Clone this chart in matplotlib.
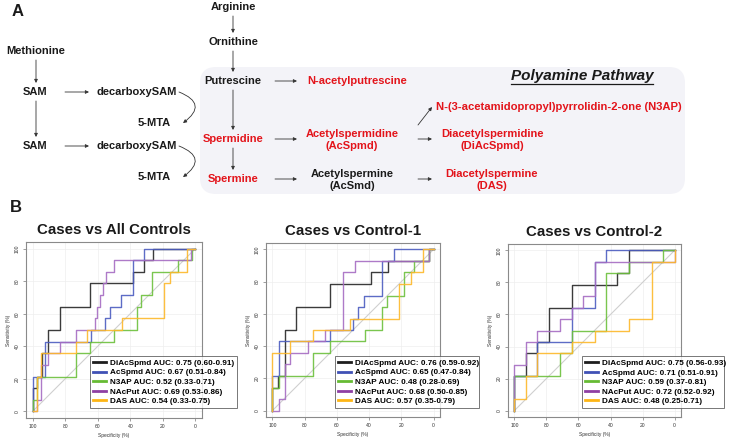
import matplotlib
matplotlib.use("Agg")
import matplotlib.pyplot as plt
from matplotlib.patches import FancyBboxPatch

plt.rcParams['font.family'] = ['Liberation Sans', 'DejaVu Sans']

RED = '#e3141b'
DARK = '#1a1a1a'

# =========================================================
# DATA  (specificity %, sensitivity %) read from the ROC steps
# =========================================================

markers = ["DiAcSpmd", "AcSpmd", "N3AP", "NAcPut", "DAS"]
colors = ['#1e1e1e', '#4051b5', '#66bb33', '#8e3fa3', '#fdb515']
line_colors = ['#262626', '#4b5cc0', '#6cc03c', '#a56cc2', '#fdb82a']

titles = ["Cases vs All Controls", "Cases vs Control-1", "Cases vs Control-2"]

auc_all = ["0.75 (0.60-0.91)", "0.67 (0.51-0.84)", "0.52 (0.33-0.71)",
           "0.69 (0.53-0.86)", "0.54 (0.33-0.75)"]
auc_c1 = ["0.76 (0.59-0.92)", "0.65 (0.47-0.84)", "0.48 (0.28-0.69)",
          "0.68 (0.50-0.85)", "0.57 (0.35-0.79)"]
auc_c2 = ["0.75 (0.56-0.93)", "0.71 (0.51-0.91)", "0.59 (0.37-0.81)",
          "0.72 (0.52-0.92)", "0.48 (0.25-0.71)"]

all_diacspmd = [(100, 0), (100, 14.3), (97.3, 14.3), (97.3, 21.4), (93.9, 21.4), (93.9, 35.7),
                (90.2, 35.7), (90.2, 50), (83.4, 50), (83.4, 64.3), (64.5, 64.3), (64.5, 78.6),
                (38.3, 78.6), (38.3, 85.7), (31.4, 85.7), (31.4, 92.9), (26.2, 92.9), (26.2, 100), (0, 100)]
all_acspmd = [(100, 0), (100, 21.4), (92.6, 21.4), (92.6, 42.9), (64.1, 42.9), (64.1, 50),
              (55.3, 50), (55.3, 57.1), (52.3, 57.1), (52.3, 64.3), (45.7, 64.3), (45.7, 71.4),
              (38.3, 71.4), (38.3, 92.9), (31.4, 92.9), (31.4, 100), (0, 100)]
all_n3ap = [(100, 0), (100, 7.1), (97.3, 7.1), (97.3, 21.4), (73.6, 21.4), (73.6, 35.7),
            (64.5, 35.7), (64.5, 42.9), (50.2, 42.9), (50.2, 50), (35.8, 50), (35.8, 64.3),
            (33.4, 64.3), (33.4, 71.4), (26.6, 71.4), (26.6, 85.7), (11, 85.7), (11, 92.9),
            (2, 92.9), (2, 100), (0, 100)]
all_nacput = [(100, 0), (97.3, 0), (97.3, 7.1), (94.6, 7.1), (94.6, 28.6), (90.6, 28.6),
              (90.6, 35.7), (83.2, 35.7), (83.2, 42.9), (73.6, 42.9), (73.6, 50), (61.9, 50),
              (61.9, 57.1), (60.5, 57.1), (60.5, 64.3), (58.5, 64.3), (58.5, 71.4), (56.5, 71.4),
              (56.5, 78.6), (54.7, 78.6), (54.7, 85.7), (50.2, 85.7), (50.2, 92.9), (2.5, 92.9),
              (2.5, 100), (0, 100)]
all_das = [(100, 0), (97.3, 0), (97.3, 21.4), (94.6, 21.4), (94.6, 35.7), (73.6, 35.7),
           (73.6, 42.9), (66.6, 42.9), (66.6, 50), (45, 50), (45, 57.1), (19.5, 57.1),
           (19.5, 78.6), (15.8, 78.6), (15.8, 85.7), (5.3, 85.7), (5.3, 100), (0, 100)]

c1_diacspmd = [(100, 0), (100, 14.3), (96.5, 14.3), (96.5, 21.4), (92.4, 21.4), (92.4, 50),
               (85.1, 50), (85.1, 64.3), (64, 64.3), (64, 78.6), (38.7, 78.6), (38.7, 85.7),
               (28.4, 85.7), (28.4, 92.9), (3, 92.9), (3, 100), (0, 100)]
c1_acspmd = [(100, 0), (100, 21.4), (95.9, 21.4), (95.9, 42.9), (64.2, 42.9), (64.2, 50),
             (49.9, 50), (49.9, 57.1), (46.6, 57.1), (46.6, 64.3), (43, 64.3), (43, 71.4),
             (31.9, 71.4), (31.9, 92.9), (24.8, 92.9), (24.8, 100), (0, 100)]
c1_n3ap = [(100, 0), (100, 14.3), (95.9, 14.3), (95.9, 21.4), (74.7, 21.4), (74.7, 35.7),
           (64, 35.7), (64, 42.9), (42.8, 42.9), (42.8, 50), (32.3, 50), (32.3, 64.3),
           (28.9, 64.3), (28.9, 71.4), (18.6, 71.4), (18.6, 85.7), (12, 85.7), (12, 92.9),
           (3.1, 92.9), (3.1, 100), (0, 100)]
c1_nacput = [(100, 0), (95.9, 0), (95.9, 7.1), (92.4, 7.1), (92.4, 28.6), (88.8, 28.6),
             (88.8, 35.7), (77.8, 35.7), (77.8, 42.9), (67.5, 42.9), (67.5, 50), (56.1, 50),
             (56.1, 85.7), (48.9, 85.7), (48.9, 92.9), (3, 92.9), (3, 100), (0, 100)]
c1_das = [(100, 0), (100, 35.7), (88.8, 35.7), (88.8, 42.9), (74.7, 42.9), (74.7, 50),
          (52, 50), (52, 57.1), (21.3, 57.1), (21.3, 78.6), (14.1, 78.6), (14.1, 85.7),
          (6.4, 85.7), (6.4, 100), (0, 100)]

c2_diacspmd = [(100, 0), (100, 21.4), (92.9, 21.4), (92.9, 35.7), (85.7, 35.7), (85.7, 42.9),
               (78.6, 42.9), (78.6, 64.3), (64.3, 64.3), (64.3, 78.6), (35.7, 78.6), (35.7, 85.7),
               (28.6, 85.7), (28.6, 100), (0, 100)]
c2_acspmd = [(100, 0), (100, 21.4), (85.7, 21.4), (85.7, 42.9), (64.3, 42.9), (64.3, 64.3),
             (50, 64.3), (50, 92.9), (42.9, 92.9), (42.9, 100), (0, 100)]
c2_n3ap = [(100, 0), (100, 21.4), (71.4, 21.4), (71.4, 35.7), (64.3, 35.7), (64.3, 50),
           (42.9, 50), (42.9, 85.7), (28.6, 85.7), (28.6, 92.9), (7.1, 92.9), (7.1, 100), (0, 100)]
c2_nacput = [(100, 0), (100, 28.6), (92.9, 28.6), (92.9, 42.9), (85.7, 42.9), (85.7, 50),
             (71.4, 50), (71.4, 57.1), (64.3, 57.1), (64.3, 64.3), (57.1, 64.3), (57.1, 71.4),
             (50, 71.4), (50, 92.9), (0, 92.9), (0, 100)]
c2_das = [(100, 0), (100, 7.1), (92.9, 7.1), (92.9, 21.4), (85.7, 21.4), (85.7, 35.7),
          (64.3, 35.7), (64.3, 42.9), (50, 42.9), (50, 50), (28.6, 50), (28.6, 57.1),
          (14.3, 57.1), (14.3, 92.9), (0, 92.9), (0, 100)]

panel_curves = [
    [all_diacspmd, all_acspmd, all_n3ap, all_nacput, all_das],
    [c1_diacspmd, c1_acspmd, c1_n3ap, c1_nacput, c1_das],
    [c2_diacspmd, c2_acspmd, c2_n3ap, c2_nacput, c2_das],
]
panel_auc = [auc_all, auc_c1, auc_c2]

W, H = 730, 445
fig = plt.figure(figsize=(W / 100, H / 100), dpi=100)


# =========================================================
# PANEL A - pathway
# =========================================================

axA = fig.add_axes([0, 0, 1, 1], zorder=0)
axA.set_xlim(0, W)
axA.set_ylim(H, 0)
axA.axis('off')

axA.add_patch(FancyBboxPatch((200, 67), 485, 127,
                             boxstyle="round,pad=0,rounding_size=16",
                             fc='#f3f3f8', ec='none'))


def label(x, y, s, color=DARK, size=8, **kw):
    axA.text(x, y, s, color=color, fontsize=size, fontweight='bold',
             ha='center', va='center', linespacing=1.15, **kw)


def arrow(x0, y0, x1, y1, rad=0.0):
    axA.annotate("", xy=(x1, y1), xytext=(x0, y0),
                 arrowprops=dict(arrowstyle='-|>', color='#333333', lw=0.6,
                                 mutation_scale=5, shrinkA=0, shrinkB=0,
                                 connectionstyle=f"arc3,rad={rad}"))


axA.text(12, 12, "A", fontsize=12, fontweight='bold', va='center', color=DARK)
axA.text(10, 207, "B", fontsize=12, fontweight='bold', va='center', color=DARK)

label(233, 7, "Arginine")
label(233, 42, "Ornithine")
label(36, 51, "Methionine")
label(35, 92, "SAM")
label(137, 92, "decarboxySAM")
label(154, 123, "5-MTA")
label(35, 146, "SAM")
label(137, 146, "decarboxySAM")
label(154, 177, "5-MTA")
label(233, 81, "Putrescine")
label(233, 139, "Spermidine", RED)
label(233, 179, "Spermine", RED)
axA.text(307, 81, "N-acetylputrescine", color=RED, fontsize=8, fontweight='bold',
         ha='left', va='center')
label(352, 140, "Acetylspermidine\n(AcSpmd)", RED)
label(352, 180, "Acetylspermine\n(AcSmd)")
axA.text(436, 107, "N-(3-acetamidopropyl)pyrrolidin-2-one (N3AP)", color=RED,
         fontsize=8.1, fontweight='bold', ha='left', va='center')
label(492, 140, "Diacetylspermidine\n(DiAcSpmd)", RED)
label(492, 180, "Diacetylspermine\n(DAS)", RED)

axA.text(582, 76, "Polyamine Pathway", fontsize=11, fontweight='bold',
         fontstyle='italic', ha='center', va='center', color=DARK)
axA.plot([511, 653], [84, 84], color=DARK, lw=0.9)

# vertical arrows
arrow(36, 60, 36, 83)
arrow(36, 101, 36, 137)
arrow(233, 16, 233, 33)
arrow(233, 51, 233, 72)
arrow(233, 90, 233, 130)
arrow(233, 148, 233, 170)
# horizontal arrows
arrow(65, 92, 89, 92)
arrow(65, 146, 89, 146)
arrow(275, 81, 297, 81)
arrow(275, 139, 297, 139)
arrow(275, 179, 297, 179)
arrow(418, 139, 432, 139)
arrow(418, 179, 432, 179)
arrow(418, 125, 432, 107)
# curved arrows decarboxySAM -> 5-MTA
arrow(179, 92, 183, 123, rad=-0.9)
arrow(179, 146, 183, 177, rad=-0.9)


# =========================================================
# PANEL B - ROC curves
# =========================================================

boxes = [(26, 242, 176), (266, 243, 174), (508, 244, 173)]
legend_pos = [(0.364, 0.057, 0.835), (0.397, 0.052, 0.828), (0.428, 0.052, 0.82)]

for i in range(3):
    left, top, size = boxes[i]
    ax = fig.add_axes([left / W, 1 - (top + size) / H, size / W, size / H], zorder=2)
    ax.set_xlim(104, -4)
    ax.set_ylim(-4, 104)

    ticks = [0, 20, 40, 60, 80, 100]
    for t in ticks:
        ax.axvline(t, color='#eeeeee', lw=0.5, zorder=0)
        ax.axhline(t, color='#eeeeee', lw=0.5, zorder=0)
    ax.plot([100, 0], [0, 100], color='#cfcfcf', lw=0.8, zorder=1)

    for curve, col in zip(panel_curves[i], line_colors):
        spec = [p[0] for p in curve]
        sens = [p[1] for p in curve]
        ax.plot(spec, sens, color=col, lw=1.0, alpha=0.9, zorder=2)

    handles = [plt.Line2D([], [], color=c, lw=2.0) for c in colors]
    labels = [f"{m} AUC: {a}" for m, a in zip(markers, panel_auc[i])]
    x0, y0, w = legend_pos[i]
    leg = ax.legend(handles, labels, loc='lower left', bbox_to_anchor=(x0, y0, w, 0),
                    mode='expand', fontsize=5.9, frameon=True, fancybox=False,
                    borderpad=0.35, labelspacing=0.22, handlelength=1.6,
                    handletextpad=0.5, borderaxespad=0)
    leg.get_frame().set_edgecolor('#555555')
    leg.get_frame().set_linewidth(0.7)
    for t in leg.get_texts():
        t.set_fontweight('bold')

    ax.set_xticks(ticks)
    ax.set_yticks(ticks)
    ax.set_yticklabels([str(t) for t in ticks], rotation=90, va='center')
    ax.tick_params(labelsize=3.6, length=2.5, width=0.5, color='#777777',
                   labelcolor='#333333', pad=2)
    for s in ax.spines.values():
        s.set_color('#8a8a8a')
        s.set_linewidth(0.8)
    ax.set_xlabel("Specificity (%)", fontsize=3.5, color='#333333', labelpad=3)
    ax.set_ylabel("Sensitivity (%)", fontsize=3.5, color='#333333', labelpad=3)
    ax.set_title(titles[i], fontsize=10.8, fontweight='bold', color=DARK, pad=6)

fig.savefig("out.png", dpi=100)
